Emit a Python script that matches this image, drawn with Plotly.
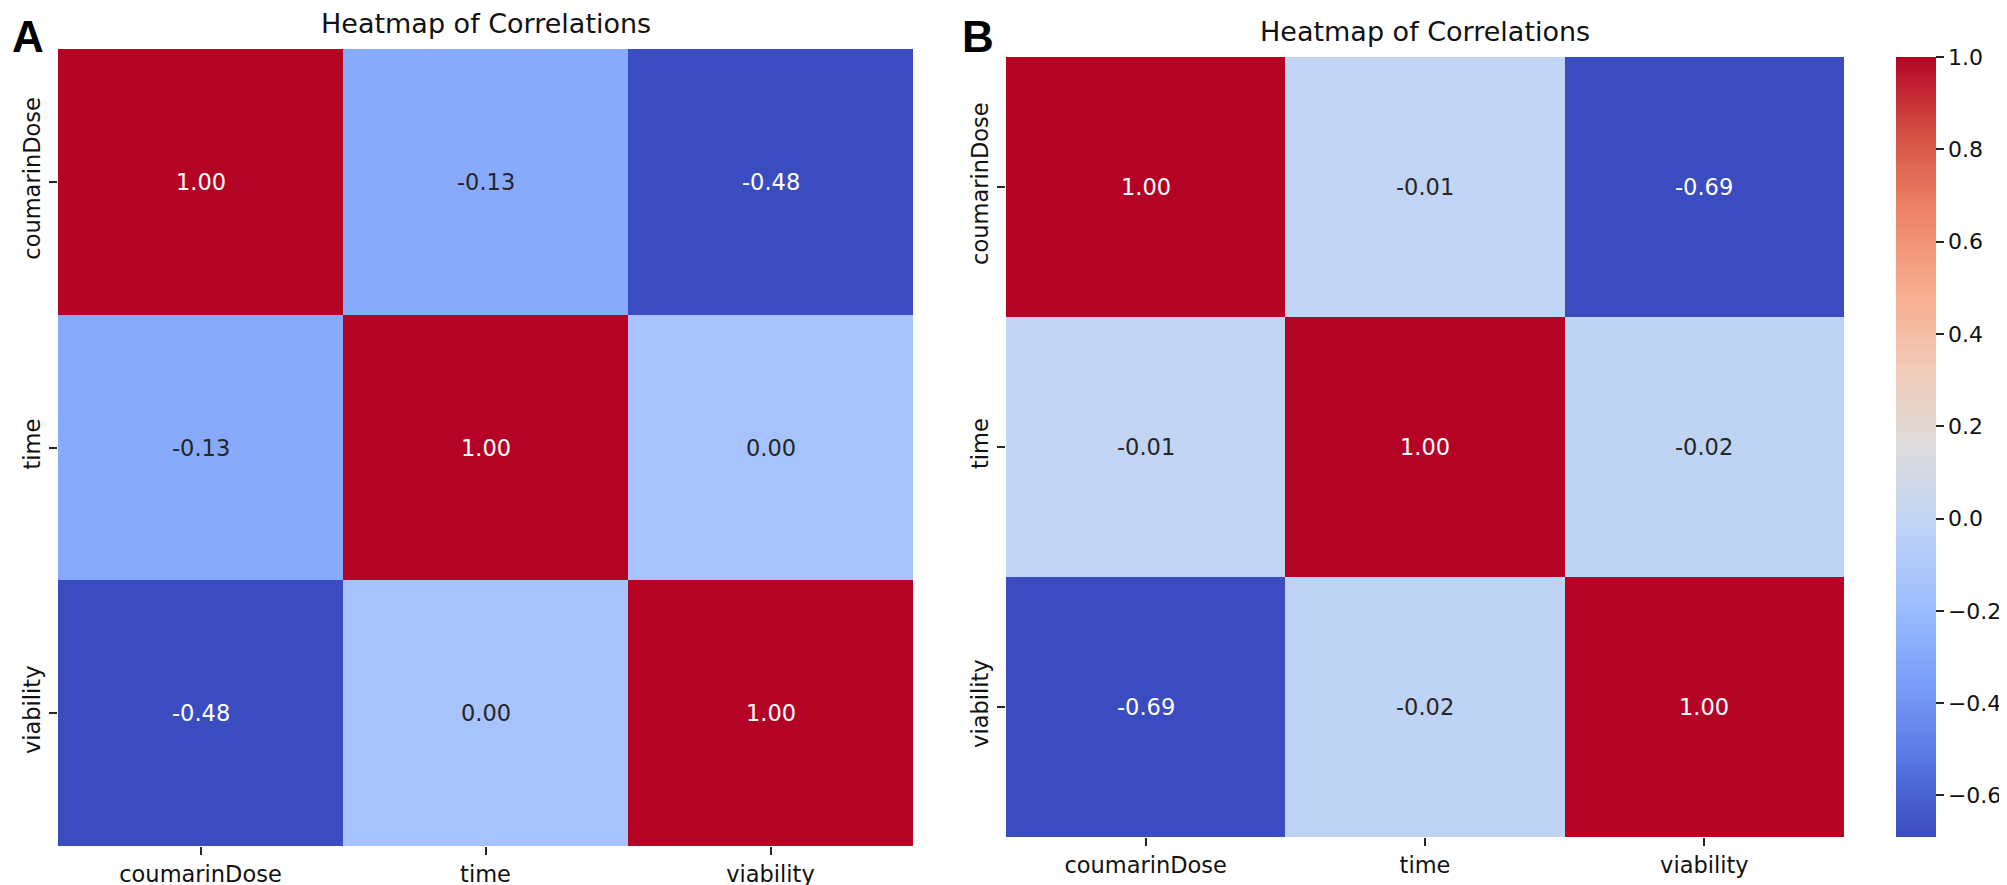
import plotly.graph_objects as go

# ---- data ----
labels = ["coumarinDose", "time", "viability"]
corr_a = [
    [1.00, -0.13, -0.48],
    [-0.13, 1.00, 0.00],
    [-0.48, 0.00, 1.00],
]
corr_b = [
    [1.00, -0.01, -0.69],
    [-0.01, 1.00, -0.02],
    [-0.69, -0.02, 1.00],
]
title_text = "Heatmap of Correlations"
panel_labels = ["A", "B"]
cbar_ticks = [-0.6, -0.4, -0.2, 0.0, 0.2, 0.4, 0.6, 0.8, 1.0]

# matplotlib "coolwarm" sampled
coolwarm_hex = ["#3b4cc0", "#5977e3", "#7b9ff9", "#9ebeff", "#c0d4f5", "#dddcdc",
                "#f2cbb7", "#f7ac8e", "#ee8468", "#d65244", "#b40426"]
colorscale = [[i / 10, c] for i, c in enumerate(coolwarm_hex)]

W, H = 2007, 885
FONT = "DejaVu Sans"
DARK = "#262626"


def hex2rgb(h):
    h = h.lstrip("#")
    return [int(h[i:i + 2], 16) / 255 for i in (0, 2, 4)]


def cmap(t):
    t = min(max(t, 0.0), 1.0)
    i = min(int(t * 10), 9)
    f = t * 10 - i
    a, b = hex2rgb(coolwarm_hex[i]), hex2rgb(coolwarm_hex[i + 1])
    return [a[k] + (b[k] - a[k]) * f for k in range(3)]


def lum(rgb):
    lin = [c / 12.92 if c <= 0.03928 else ((c + 0.055) / 1.055) ** 2.4 for c in rgb]
    return 0.2126 * lin[0] + 0.7152 * lin[1] + 0.0722 * lin[2]


# panel pixel boxes (left, top, right, bottom)
boxes = [(50, 41, 905, 838), (998, 49, 1836, 829)]

fig = go.Figure()
annotations = []
for p, (z, box) in enumerate(zip([corr_a, corr_b], boxes)):
    zmin = min(min(r) for r in z)
    zmax = max(max(r) for r in z)
    xa = "x" if p == 0 else "x2"
    ya = "y" if p == 0 else "y2"
    fig.add_trace(go.Heatmap(
        z=z, x=labels, y=labels, xaxis=xa, yaxis=ya,
        colorscale=colorscale, zmin=zmin, zmax=zmax,
        showscale=(p == 1), hoverinfo="skip", xgap=0, ygap=0,
        colorbar=dict(
            x=1888 / W, xanchor="left", xref="paper", xpad=0, ypad=0,
            y=1 - box[1] / H, yanchor="top", yref="paper",
            len=(box[3] - box[1]) / H, lenmode="fraction",
            thickness=40, thicknessmode="pixels",
            outlinewidth=0, ticks="outside", ticklen=8, tickwidth=1.5,
            tickcolor=DARK, tickvals=cbar_ticks, tickformat=".1f",
            tickfont=dict(family=FONT, size=22, color="#111111"),
        ) if p == 1 else None,
    ))
    for i, row in enumerate(z):
        for j, v in enumerate(row):
            col = cmap((v - zmin) / (zmax - zmin))
            tc = DARK if lum(col) > 0.408 else "#ffffff"
            annotations.append(dict(
                x=labels[j], y=labels[i], xref=xa, yref=ya,
                text=f"{v:.2f}", showarrow=False,
                font=dict(family=FONT, size=22.5, color=tc)))
    cx = (box[0] + box[2]) / 2 / W
    annotations.append(dict(
        x=cx, y=1 - (box[1] - 8) / H, xref="paper", yref="paper",
        xanchor="center", yanchor="bottom", text=title_text, showarrow=False,
        font=dict(family=FONT, size=27, color="#111111")))
    annotations.append(dict(
        x=(20 if p == 0 else 970) / W, y=1 - 28 / H, xref="paper", yref="paper",
        xanchor="center", yanchor="middle", text=f"<b>{panel_labels[p]}</b>",
        showarrow=False,
        font=dict(family="Liberation Sans", size=44, color="#000000")))

axis_common = dict(
    type="category", showgrid=False, zeroline=False, showline=False,
    ticks="outside", ticklen=8, tickwidth=1.5, tickcolor=DARK,
    tickfont=dict(family=FONT, size=22.5, color="#111111"),
)

(a0, a1, a2, a3), (b0, b1, b2, b3) = boxes
fig.update_layout(
    width=W, height=H, margin=dict(l=0, r=0, t=0, b=0),
    paper_bgcolor="white", plot_bgcolor="white",
    xaxis=dict(domain=[a0 / W, a2 / W], anchor="y", **axis_common),
    yaxis=dict(domain=[1 - a3 / H, 1 - a1 / H], anchor="x", autorange="reversed",
               tickangle=-90, **axis_common),
    xaxis2=dict(domain=[b0 / W, b2 / W], anchor="y2", **axis_common),
    yaxis2=dict(domain=[1 - b3 / H, 1 - b1 / H], anchor="x2", autorange="reversed",
                tickangle=-90, **axis_common),
    annotations=annotations,
    showlegend=False,
)

fig.write_html("out.html")
